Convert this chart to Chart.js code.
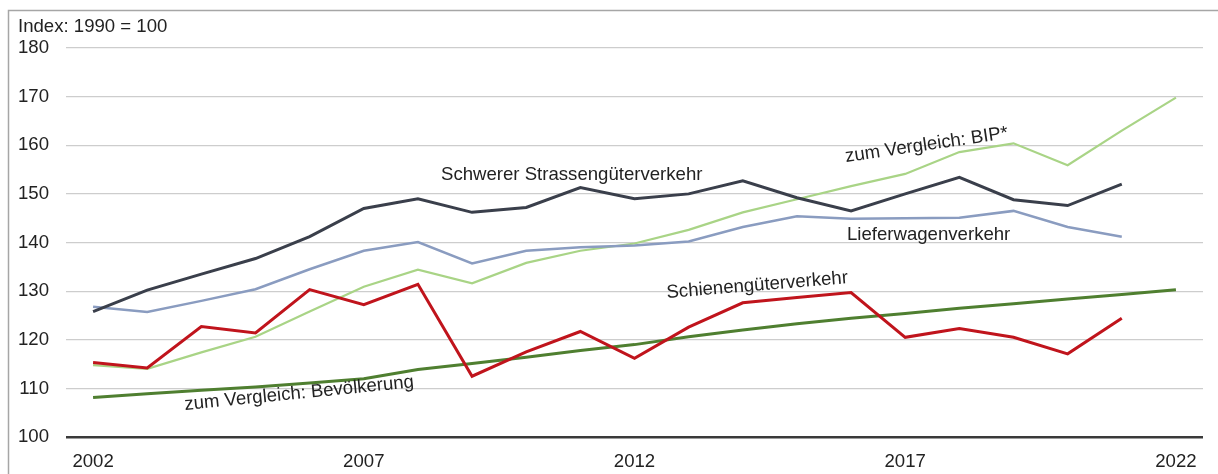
<!DOCTYPE html>
<html>
<head>
<meta charset="utf-8">
<script src="https://cdn.jsdelivr.net/npm/chart.js@4.4.1/dist/chart.umd.min.js"></script>
<style>
  html, body { margin: 0; padding: 0; background: #ffffff; }
  #wrap { width: 1218px; height: 474px; position: relative; }
</style>
</head>
<body>
<div id="wrap"><canvas id="c" width="1218" height="474"></canvas></div>
<script>
const years = [2002,2003,2004,2005,2006,2007,2008,2009,2010,2011,2012,2013,2014,2015,2016,2017,2018,2019,2020,2021,2022];
const shownYears = [2002, 2007, 2012, 2017, 2022];
const yTicks = [100,110,120,130,140,150,160,170,180];

const schwer   = [125.8,130.2,133.5,136.7,141.2,147.0,149.0,146.2,147.2,151.3,149.0,150.0,152.7,149.2,146.5,150.0,153.4,148.8,147.6,152.0,null];
const liefer   = [126.8,125.7,128.0,130.4,134.5,138.3,140.1,135.7,138.3,139.0,139.4,140.2,143.2,145.4,144.9,145.0,145.1,146.5,143.2,141.2,null];
const bip      = [114.8,114.0,117.4,120.6,125.8,130.9,134.4,131.6,135.8,138.3,139.8,142.6,146.2,148.9,151.6,154.1,158.6,160.4,155.9,163.0,169.8];
const bev      = [108.1,108.9,109.6,110.3,111.1,112.0,113.9,115.1,116.4,117.8,119.0,120.6,122.0,123.3,124.4,125.4,126.5,127.4,128.4,129.3,130.3];
const schiene  = [115.3,114.2,122.7,121.4,130.3,127.2,131.4,112.5,117.5,121.7,116.2,122.6,127.6,128.7,129.7,120.5,122.3,120.5,117.1,124.4,null];

const seriesNames = ["Schienengüterverkehr","Schwerer Strassengüterverkehr","Lieferwagenverkehr","zum Vergleich: BIP*","zum Vergleich: Bevölkerung"];
const yTitle = "Index: 1990 = 100";

const FONT = "'Liberation Sans', Arial, Helvetica, sans-serif";
const FS = 18.6;
const TXT = "#222222";

const annotations = [
  { text: seriesNames[1], x: 441, y: 180, angle: 0 },
  { text: seriesNames[2], x: 847, y: 240, angle: 0 },
  { text: seriesNames[3], x: 846, y: 162, angle: -8.3 },
  { text: seriesNames[0], x: 667, y: 298, angle: -4.7 },
  { text: seriesNames[4], x: 185, y: 410, angle: -5.7 }
];

const decor = {
  id: 'decor',
  beforeDraw(chart) {
    const ctx = chart.ctx;
    ctx.save();
    ctx.fillStyle = '#ffffff';
    ctx.fillRect(0, 0, chart.width, chart.height);
    ctx.strokeStyle = '#a6a6a6';
    ctx.lineWidth = 1.5;
    ctx.beginPath();
    ctx.moveTo(8.5, chart.height);
    ctx.lineTo(8.5, 10.5);
    ctx.lineTo(chart.width, 10.5);
    ctx.stroke();
    ctx.font = FS + "px " + FONT;
    ctx.fillStyle = TXT;
    ctx.textBaseline = 'alphabetic';
    ctx.textAlign = 'left';
    ctx.fillText(yTitle, 18, 32);
    ctx.restore();
  },
  afterDatasetsDraw(chart) {
    const ctx = chart.ctx;
    ctx.save();
    ctx.font = FS + "px " + FONT;
    ctx.fillStyle = TXT;
    ctx.textBaseline = 'alphabetic';
    ctx.textAlign = 'left';
    annotations.forEach(a => {
      ctx.save();
      ctx.translate(a.x, a.y);
      ctx.rotate(a.angle * Math.PI / 180);
      ctx.fillText(a.text, 0, 0);
      ctx.restore();
    });
    ctx.restore();
  }
};

function ds(label, data, color, width) {
  return { label, data, borderColor: color, backgroundColor: color, borderWidth: width,
           pointRadius: 0, tension: 0, fill: false, spanGaps: false, borderJoinStyle: 'miter' };
}

new Chart(document.getElementById('c'), {
  type: 'line',
  data: {
    labels: years,
    datasets: [
      ds(seriesNames[0], schiene, '#c0141c', 3),
      ds(seriesNames[1], schwer, '#3a3f4b', 3),
      ds(seriesNames[2], liefer, '#8a9cc0', 2.5),
      ds(seriesNames[3], bip, '#a9d486', 2.2),
      ds(seriesNames[4], bev, '#4f7f30', 3)
    ]
  },
  options: {
    responsive: false,
    animation: false,
    devicePixelRatio: 1,
    layout: { padding: { top: 48, right: 15, left: 0, bottom: 0 } },
    plugins: { legend: { display: false }, title: { display: false }, tooltip: { enabled: false } },
    scales: {
      x: {
        type: 'category',
        offset: true,
        grid: { display: false },
        border: { display: false },
        ticks: {
          autoSkip: false, maxRotation: 0, minRotation: 0, padding: 6,
          color: TXT, font: { family: FONT, size: FS },
          callback: function(v, i) { const y = years[i]; return shownYears.includes(y) ? String(y) : ''; }
        },
        afterFit(scale) { scale.height = 37; }
      },
      y: {
        min: 100, max: 180,
        afterBuildTicks(scale) { scale.ticks = yTicks.map(v => ({ value: v })); },
        grid: {
          drawTicks: false,
          color: c => c.tick && c.tick.value === 100 ? '#3a3a3a' : '#cdcdcd',
          lineWidth: c => c.tick && c.tick.value === 100 ? 2.5 : 1.2
        },
        border: { display: false },
        ticks: { padding: 17, color: TXT, font: { family: FONT, size: FS } },
        afterFit(scale) { scale.width = 66; }
      }
    }
  },
  plugins: [decor]
});
</script>
</body>
</html>
